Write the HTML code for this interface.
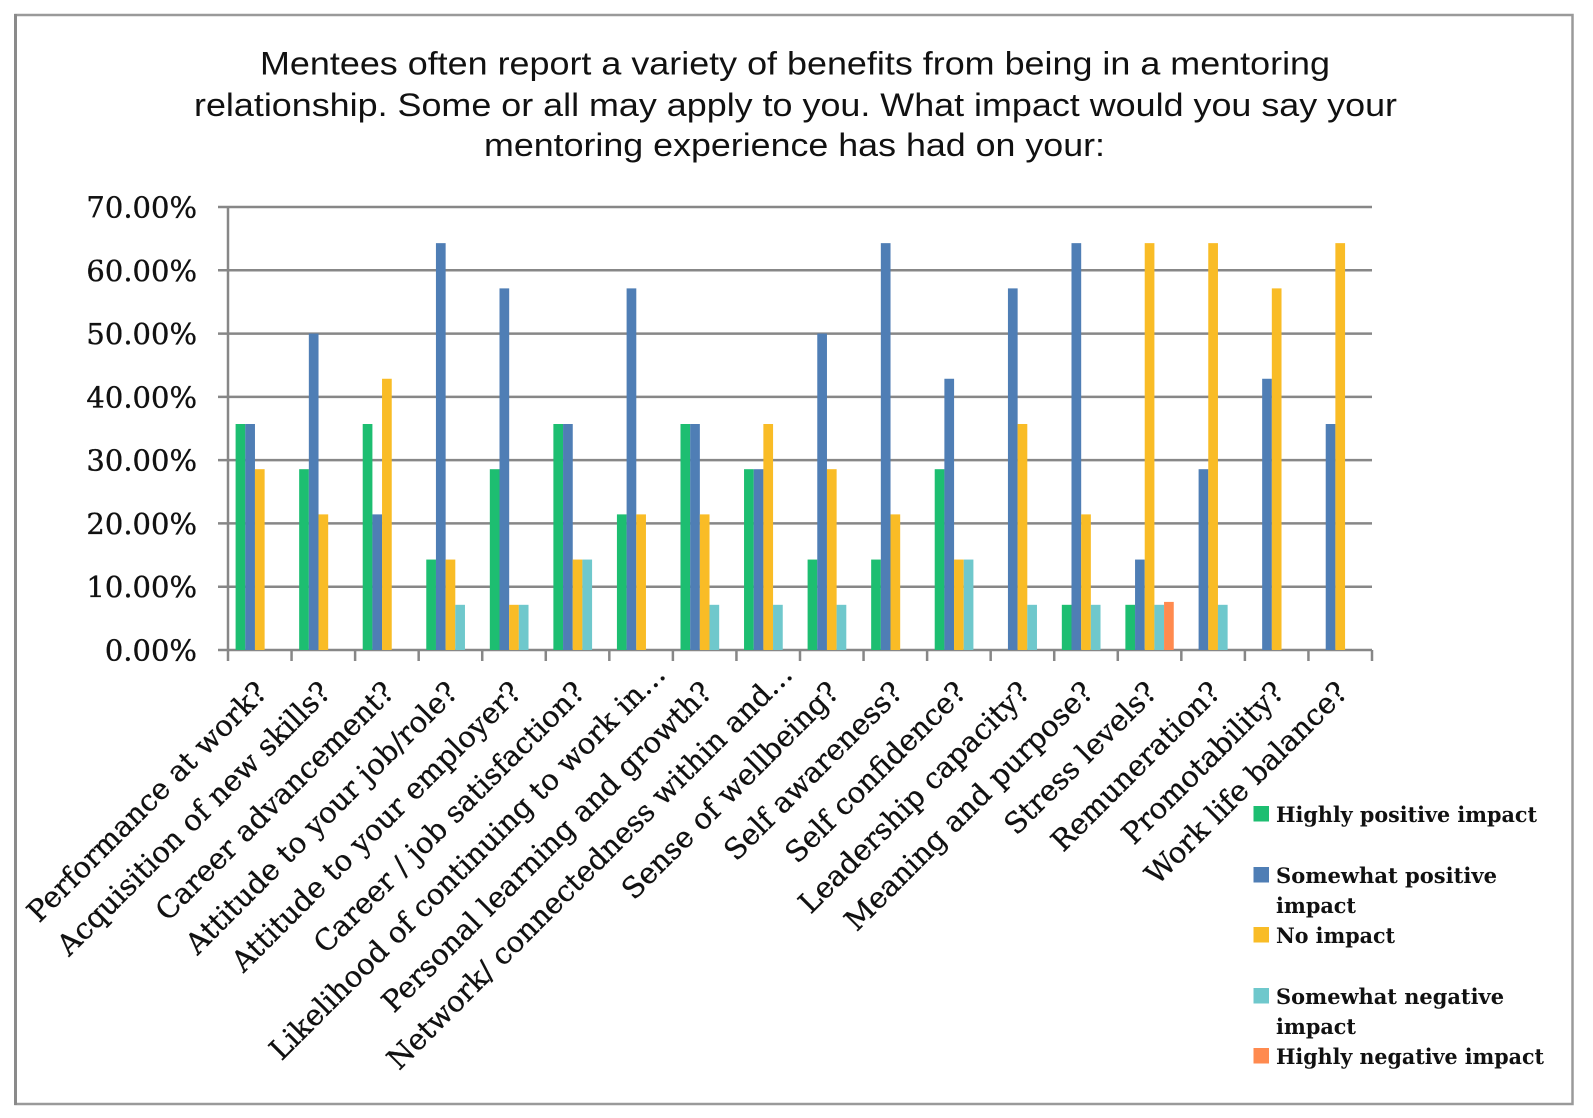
<!DOCTYPE html>
<html>
<head>
<meta charset="utf-8">
<style>
  html,body{margin:0;padding:0;background:#fff;}
  svg{display:block;}
  .g{fill:#1DBE71;} .b{fill:#4F7EB5;} .y{fill:#F9BC26;} .t{fill:#6FC8CC;} .o{fill:#FF8A4F;}
  .ttl{font-family:"Liberation Sans",Arial,sans-serif;font-size:32px;fill:#111;}
  .yl{font-family:"DejaVu Serif","Liberation Serif",serif;font-size:29px;fill:#111;stroke:#111;stroke-width:0.35;}
  .xl{font-family:"DejaVu Serif","Liberation Serif",serif;font-size:29px;fill:#111;stroke:#111;stroke-width:0.35;}
  .lg{font-family:"DejaVu Serif","Liberation Serif",serif;font-size:21.5px;font-weight:bold;fill:#111;}
</style>
</head>
<body>
<svg width="1593" height="1118" viewBox="0 0 1593 1118" xmlns="http://www.w3.org/2000/svg">
  <rect x="0" y="0" width="1593" height="1118" fill="#fff"/>
  <!-- outer border -->
  <rect x="15.5" y="15" width="1557" height="1089" fill="none" stroke="#9a9a9a" stroke-width="2.5"/>
  <line x1="15.5" y1="14" x2="15.5" y2="1105" stroke="#8a8a8a" stroke-width="3"/>

  <!-- title -->
  <text class="ttl" x="260" y="74.5" textLength="1070" lengthAdjust="spacingAndGlyphs">Mentees often report a variety of benefits from being in a mentoring</text>
  <text class="ttl" x="194" y="116" textLength="1203" lengthAdjust="spacingAndGlyphs">relationship. Some or all may apply to you. What impact would you say your</text>
  <text class="ttl" x="484" y="156" textLength="621" lengthAdjust="spacingAndGlyphs">mentoring experience has had on your:</text>

  <!-- gridlines -->
  <g stroke="#878787" stroke-width="2.5">
    <line x1="218" y1="207" x2="1372" y2="207"/>
    <line x1="218" y1="270.3" x2="1372" y2="270.3"/>
    <line x1="218" y1="333.6" x2="1372" y2="333.6"/>
    <line x1="218" y1="396.9" x2="1372" y2="396.9"/>
    <line x1="218" y1="460.1" x2="1372" y2="460.1"/>
    <line x1="218" y1="523.4" x2="1372" y2="523.4"/>
    <line x1="218" y1="586.7" x2="1372" y2="586.7"/>
    <line x1="218" y1="650" x2="1372" y2="650"/>
    <line x1="228" y1="207" x2="228" y2="661"/>
    <line x1="291.56" y1="650" x2="291.56" y2="661"/>
    <line x1="355.11" y1="650" x2="355.11" y2="661"/>
    <line x1="418.67" y1="650" x2="418.67" y2="661"/>
    <line x1="482.22" y1="650" x2="482.22" y2="661"/>
    <line x1="545.78" y1="650" x2="545.78" y2="661"/>
    <line x1="609.33" y1="650" x2="609.33" y2="661"/>
    <line x1="672.89" y1="650" x2="672.89" y2="661"/>
    <line x1="736.44" y1="650" x2="736.44" y2="661"/>
    <line x1="800" y1="650" x2="800" y2="661"/>
    <line x1="863.56" y1="650" x2="863.56" y2="661"/>
    <line x1="927.11" y1="650" x2="927.11" y2="661"/>
    <line x1="990.67" y1="650" x2="990.67" y2="661"/>
    <line x1="1054.22" y1="650" x2="1054.22" y2="661"/>
    <line x1="1117.78" y1="650" x2="1117.78" y2="661"/>
    <line x1="1181.33" y1="650" x2="1181.33" y2="661"/>
    <line x1="1244.89" y1="650" x2="1244.89" y2="661"/>
    <line x1="1308.44" y1="650" x2="1308.44" y2="661"/>
    <line x1="1372" y1="650" x2="1372" y2="661"/>
  </g>

  <!-- y labels -->
  <g class="yl" text-anchor="end">
    <text x="197" y="217.5">70.00%</text>
    <text x="197" y="280.8">60.00%</text>
    <text x="197" y="344.1">50.00%</text>
    <text x="197" y="407.4">40.00%</text>
    <text x="197" y="470.6">30.00%</text>
    <text x="197" y="533.9">20.00%</text>
    <text x="197" y="597.2">10.00%</text>
    <text x="197" y="660.5">0.00%</text>
  </g>

  <!-- bars -->
  <g>
    <!-- 1 -->
    <rect class="g" x="235.6" y="424" width="9.7" height="226"/>
    <rect class="b" x="245.27" y="424" width="9.7" height="226"/>
    <rect class="y" x="254.93" y="469.19" width="9.7" height="180.81"/>
    <!-- 2 -->
    <rect class="g" x="299.16" y="469.19" width="9.7" height="180.81"/>
    <rect class="b" x="308.83" y="333.57" width="9.7" height="316.43"/>
    <rect class="y" x="318.49" y="514.38" width="9.7" height="135.62"/>
    <!-- 3 -->
    <rect class="g" x="362.71" y="424" width="9.7" height="226"/>
    <rect class="b" x="372.38" y="514.38" width="9.7" height="135.62"/>
    <rect class="y" x="382.04" y="378.76" width="9.7" height="271.24"/>
    <!-- 4 -->
    <rect class="g" x="426.27" y="559.56" width="9.7" height="90.44"/>
    <rect class="b" x="435.94" y="243.14" width="9.7" height="406.86"/>
    <rect class="y" x="445.6" y="559.56" width="9.7" height="90.44"/>
    <rect class="t" x="455.27" y="604.81" width="9.7" height="45.19"/>
    <!-- 5 -->
    <rect class="g" x="489.82" y="469.19" width="9.7" height="180.81"/>
    <rect class="b" x="499.49" y="288.38" width="9.7" height="361.62"/>
    <rect class="y" x="509.15" y="604.81" width="9.7" height="45.19"/>
    <rect class="t" x="518.82" y="604.81" width="9.7" height="45.19"/>
    <!-- 6 -->
    <rect class="g" x="553.38" y="424" width="9.7" height="226"/>
    <rect class="b" x="563.05" y="424" width="9.7" height="226"/>
    <rect class="y" x="572.71" y="559.56" width="9.7" height="90.44"/>
    <rect class="t" x="582.38" y="559.56" width="9.7" height="90.44"/>
    <!-- 7 -->
    <rect class="g" x="616.93" y="514.38" width="9.7" height="135.62"/>
    <rect class="b" x="626.6" y="288.38" width="9.7" height="361.62"/>
    <rect class="y" x="636.26" y="514.38" width="9.7" height="135.62"/>
    <!-- 8 -->
    <rect class="g" x="680.49" y="424" width="9.7" height="226"/>
    <rect class="b" x="690.16" y="424" width="9.7" height="226"/>
    <rect class="y" x="699.82" y="514.38" width="9.7" height="135.62"/>
    <rect class="t" x="709.49" y="604.81" width="9.7" height="45.19"/>
    <!-- 9 -->
    <rect class="g" x="744.04" y="469.19" width="9.7" height="180.81"/>
    <rect class="b" x="753.71" y="469.19" width="9.7" height="180.81"/>
    <rect class="y" x="763.37" y="424" width="9.7" height="226"/>
    <rect class="t" x="773.04" y="604.81" width="9.7" height="45.19"/>
    <!-- 10 -->
    <rect class="g" x="807.6" y="559.56" width="9.7" height="90.44"/>
    <rect class="b" x="817.27" y="333.57" width="9.7" height="316.43"/>
    <rect class="y" x="826.93" y="469.19" width="9.7" height="180.81"/>
    <rect class="t" x="836.6" y="604.81" width="9.7" height="45.19"/>
    <!-- 11 -->
    <rect class="g" x="871.16" y="559.56" width="9.7" height="90.44"/>
    <rect class="b" x="880.83" y="243.14" width="9.7" height="406.86"/>
    <rect class="y" x="890.49" y="514.38" width="9.7" height="135.62"/>
    <!-- 12 -->
    <rect class="g" x="934.71" y="469.19" width="9.7" height="180.81"/>
    <rect class="b" x="944.38" y="378.76" width="9.7" height="271.24"/>
    <rect class="y" x="954.04" y="559.56" width="9.7" height="90.44"/>
    <rect class="t" x="963.71" y="559.56" width="9.7" height="90.44"/>
    <!-- 13 -->
    <rect class="b" x="1007.94" y="288.38" width="9.7" height="361.62"/>
    <rect class="y" x="1017.6" y="424" width="9.7" height="226"/>
    <rect class="t" x="1027.27" y="604.81" width="9.7" height="45.19"/>
    <!-- 14 -->
    <rect class="g" x="1061.82" y="604.81" width="9.7" height="45.19"/>
    <rect class="b" x="1071.49" y="243.14" width="9.7" height="406.86"/>
    <rect class="y" x="1081.15" y="514.38" width="9.7" height="135.62"/>
    <rect class="t" x="1090.82" y="604.81" width="9.7" height="45.19"/>
    <!-- 15 -->
    <rect class="g" x="1125.38" y="604.81" width="9.7" height="45.19"/>
    <rect class="b" x="1135.05" y="559.56" width="9.7" height="90.44"/>
    <rect class="y" x="1144.71" y="243.14" width="9.7" height="406.86"/>
    <rect class="t" x="1154.38" y="604.81" width="9.7" height="45.19"/>
    <rect class="o" x="1164.05" y="601.9" width="9.7" height="48.1"/>
    <!-- 16 -->
    <rect class="b" x="1198.6" y="469.19" width="9.7" height="180.81"/>
    <rect class="y" x="1208.26" y="243.14" width="9.7" height="406.86"/>
    <rect class="t" x="1217.93" y="604.81" width="9.7" height="45.19"/>
    <!-- 17 -->
    <rect class="b" x="1262.16" y="378.76" width="9.7" height="271.24"/>
    <rect class="y" x="1271.82" y="288.38" width="9.7" height="361.62"/>
    <!-- 18 -->
    <rect class="b" x="1325.71" y="424" width="9.7" height="226"/>
    <rect class="y" x="1335.37" y="243.14" width="9.7" height="406.86"/>
  </g>

  <!-- x labels -->
  <g class="xl" text-anchor="end">
    <text transform="translate(268.8,694) rotate(-45)">Performance at work?</text>
    <text transform="translate(332.3,694) rotate(-45)">Acquisition of new skills?</text>
    <text transform="translate(395.9,694) rotate(-45)">Career advancement?</text>
    <text transform="translate(459.5,694) rotate(-45)">Attitude to your job/role?</text>
    <text transform="translate(523,694) rotate(-45)">Attitude to your employer?</text>
    <text transform="translate(586.6,694) rotate(-45)">Career / job satisfaction?</text>
    <text transform="translate(667.1,676) rotate(-45)">Likelihood of continuing to work in…</text>
    <text transform="translate(713.7,694) rotate(-45)">Personal learning and growth?</text>
    <text transform="translate(794.2,676) rotate(-45)">Network/ connectedness within and…</text>
    <text transform="translate(840.8,694) rotate(-45)">Sense of wellbeing?</text>
    <text transform="translate(904.3,694) rotate(-45)">Self awareness?</text>
    <text transform="translate(967.9,694) rotate(-45)">Self confidence?</text>
    <text transform="translate(1031.5,694) rotate(-45)">Leadership capacity?</text>
    <text transform="translate(1095,694) rotate(-45)">Meaning and purpose?</text>
    <text transform="translate(1158.6,694) rotate(-45)">Stress levels?</text>
    <text transform="translate(1222.1,694) rotate(-45)">Remuneration?</text>
    <text transform="translate(1285.7,694) rotate(-45)">Promotability?</text>
    <text transform="translate(1349.2,694) rotate(-45)">Work life balance?</text>
  </g>

  <!-- legend -->
  <rect class="g" x="1253.5" y="806" width="15.5" height="15.5"/>
  <rect class="b" x="1253.5" y="867" width="15.5" height="15.5"/>
  <rect class="y" x="1253.5" y="927" width="15.5" height="15.5"/>
  <rect class="t" x="1253.5" y="988" width="15.5" height="15.5"/>
  <rect class="o" x="1253.5" y="1048" width="15.5" height="15.5"/>
  <text class="lg" x="1276" y="822" textLength="261" lengthAdjust="spacingAndGlyphs">Highly positive impact</text>
  <text class="lg" x="1276" y="883" textLength="221" lengthAdjust="spacingAndGlyphs">Somewhat positive</text>
  <text class="lg" x="1276" y="913" textLength="80" lengthAdjust="spacingAndGlyphs">impact</text>
  <text class="lg" x="1276" y="943" textLength="119" lengthAdjust="spacingAndGlyphs">No impact</text>
  <text class="lg" x="1276" y="1004" textLength="228" lengthAdjust="spacingAndGlyphs">Somewhat negative</text>
  <text class="lg" x="1276" y="1034" textLength="80" lengthAdjust="spacingAndGlyphs">impact</text>
  <text class="lg" x="1276" y="1064" textLength="268" lengthAdjust="spacingAndGlyphs">Highly negative impact</text>
</svg>
</body>
</html>
